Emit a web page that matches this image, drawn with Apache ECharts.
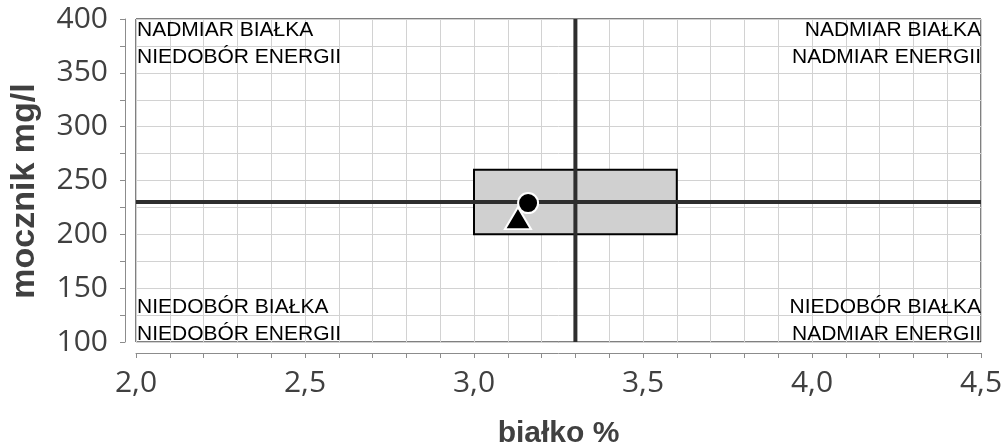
<!DOCTYPE html>
<html>
<head>
<meta charset="utf-8">
<script src="https://cdn.jsdelivr.net/npm/echarts@6/dist/echarts.min.js"></script>
<style>html,body{margin:0;padding:0;background:#fff}#c{width:1004px;height:446px}</style>
</head>
<body>
<div id="c"></div>
<script>
// ---- data ----
const xRange = [2.0, 4.5];
const yRange = [100, 400];
const refX = 3.3;          // vertical reference line (białko %)
const refY = 230;          // horizontal reference line (mocznik mg/l)
const boxX = [3.0, 3.6];   // norm box białko %
const boxY = [200, 260];   // norm box mocznik mg/l
const circlePoint = [[3.16, 229]];
const trianglePoint = [[3.13, 215]];
const xName = 'białko %';
const yName = 'mocznik mg/l';
const cornerTopLeft = 'NADMIAR BIAŁKA\nNIEDOBÓR ENERGII';
const cornerTopRight = 'NADMIAR BIAŁKA\nNADMIAR ENERGII';
const cornerBottomLeft = 'NIEDOBÓR BIAŁKA\nNIEDOBÓR ENERGII';
const cornerBottomRight = 'NIEDOBÓR BIAŁKA\nNADMIAR ENERGII';

const chart = echarts.init(document.getElementById('c'), null, {renderer: 'canvas'});
const labelColor = '#404040';
const gridColor = '#d2d2d2';
const axisColor = '#8c8c8c';
const cornerFont = '21px "Liberation Sans", Arial, sans-serif';

const option = {
  animation: false,
  backgroundColor: '#fff',
  grid: {left: 136, right: 23, top: 19, bottom: 104, containLabel: false, outerBoundsMode: 'none',
    show: true, borderColor: '#000', borderWidth: 1, backgroundColor: 'transparent'},
  xAxis: {
    type: 'value', min: xRange[0], max: xRange[1], interval: 0.5, offset: 11,
    name: xName, nameLocation: 'middle', nameGap: 66,
    nameTextStyle: {fontFamily: '"Liberation Sans", Arial', fontWeight: 'bold', fontSize: 30, color: labelColor},
    axisLine: {show: true, lineStyle: {color: axisColor, width: 1}},
    axisTick: {show: true, length: 5, lineStyle: {color: axisColor}},
    minorTick: {show: true, splitNumber: 5, length: 5, lineStyle: {color: axisColor}},
    axisLabel: {fontFamily: '"Open Sans"', fontSize: 30, color: labelColor, margin: 15,
      formatter: v => v.toFixed(1).replace('.', ',')},
    splitLine: {show: true, lineStyle: {color: gridColor, width: 1}},
    minorSplitLine: {show: true, lineStyle: {color: gridColor, width: 1}}
  },
  yAxis: {
    type: 'value', min: yRange[0], max: yRange[1], interval: 50, offset: 11,
    axisLine: {show: true, lineStyle: {color: axisColor, width: 1}},
    axisTick: {show: true, length: 5, lineStyle: {color: axisColor}},
    minorTick: {show: true, splitNumber: 2, length: 5, lineStyle: {color: axisColor}},
    axisLabel: {fontFamily: '"Open Sans"', fontSize: 30, color: labelColor, margin: 17},
    splitLine: {show: true, lineStyle: {color: gridColor, width: 1}},
    minorSplitLine: {show: true, lineStyle: {color: gridColor, width: 1}}
  },
  graphic: [
    {type: 'text', x: 25, y: 191, rotation: Math.PI / 2, z: 10,
      style: {text: yName, font: 'bold 34px "Liberation Sans", Arial', fill: labelColor, align: 'center', verticalAlign: 'middle'}},
    {type: 'text', x: 137, y: 17, z: 10, style: {text: cornerTopLeft, font: cornerFont, fill: '#000', lineHeight: 27, align: 'left', verticalAlign: 'top'}},
    {type: 'text', x: 981, y: 17, z: 10, style: {text: cornerTopRight, font: cornerFont, fill: '#000', lineHeight: 27, align: 'right', verticalAlign: 'top'}},
    {type: 'text', x: 137, y: 294, z: 10, style: {text: cornerBottomLeft, font: cornerFont, fill: '#000', lineHeight: 27, align: 'left', verticalAlign: 'top'}},
    {type: 'text', x: 981, y: 294, z: 10, style: {text: cornerBottomRight, font: cornerFont, fill: '#000', lineHeight: 27, align: 'right', verticalAlign: 'top'}}
  ],
  series: [
    {
      type: 'custom', z: 1, silent: true,
      data: [[boxX[0], boxY[1], boxX[1], boxY[0]]],
      renderItem: (params, api) => {
        const p1 = api.coord([api.value(0), api.value(1)]);
        const p2 = api.coord([api.value(2), api.value(3)]);
        return {type: 'rect', shape: {x: p1[0], y: p1[1], width: p2[0] - p1[0], height: p2[1] - p1[1]},
          style: {fill: '#d0d0d0', stroke: '#000', lineWidth: 2}};
      }
    },
    {type: 'line', z: 2, symbol: 'none', silent: true, data: [[refX, yRange[0]], [refX, yRange[1]]],
      lineStyle: {color: '#2e2e2e', width: 4}},
    {type: 'line', z: 2, symbol: 'none', silent: true, data: [[xRange[0], refY], [xRange[1], refY]],
      lineStyle: {color: '#2e2e2e', width: 4}},
    {type: 'scatter', z: 3, symbol: 'triangle', symbolSize: [26, 22], data: trianglePoint,
      itemStyle: {color: '#000', borderColor: '#fff', borderWidth: 2, opacity: 1}},
    {type: 'scatter', z: 4, symbol: 'circle', symbolSize: 20, data: circlePoint,
      itemStyle: {color: '#000', borderColor: '#fff', borderWidth: 2, opacity: 1}}
  ]
};
chart.setOption(option);
</script>
</body>
</html>
